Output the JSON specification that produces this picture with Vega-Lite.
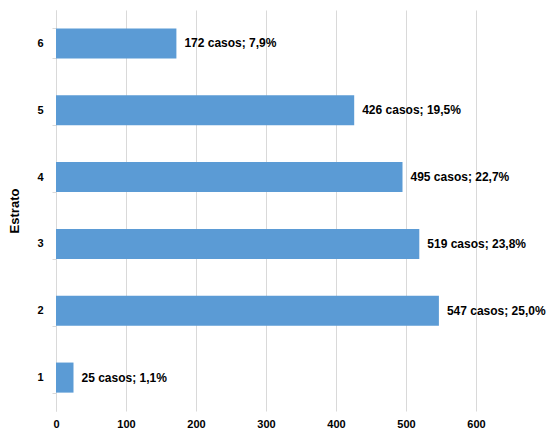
{
  "$schema": "https://vega.github.io/schema/vega-lite/v6.json",
  "autosize": {"type": "none"},
  "padding": {"left": 56, "top": 10, "right": 72, "bottom": 25},
  "width": 420,
  "height": 401,
  "background": "white",
  "data": {
    "values": [
      {"Estrato": "6", "casos": 172, "label": "172 casos; 7,9%"},
      {"Estrato": "5", "casos": 426, "label": "426 casos; 19,5%"},
      {"Estrato": "4", "casos": 495, "label": "495 casos; 22,7%"},
      {"Estrato": "3", "casos": 519, "label": "519 casos; 23,8%"},
      {"Estrato": "2", "casos": 547, "label": "547 casos; 25,0%"},
      {"Estrato": "1", "casos": 25, "label": "25 casos; 1,1%"}
    ]
  },
  "encoding": {
    "y": {
      "field": "Estrato",
      "type": "nominal",
      "sort": ["6", "5", "4", "3", "2", "1"],
      "scale": {"paddingInner": 0.55, "paddingOuter": 0.275},
      "axis": {
        "title": "Estrato",
        "titleFont": "Liberation Sans",
        "titleFontSize": 13,
        "titleFontWeight": "bold",
        "titleColor": "black",
        "titlePadding": 15,
        "labelFont": "Liberation Sans",
        "labelFontSize": 11,
        "labelFontWeight": "bold",
        "labelColor": "black",
        "labelPadding": 9,
        "labelAngle": 0,
        "tickBand": "extent",
        "tickSize": 4,
        "tickColor": "#d9d9d9",
        "domainColor": "#d9d9d9",
        "grid": false
      }
    }
  },
  "layer": [
    {
      "mark": {"type": "bar", "color": "#5b9bd5"},
      "encoding": {
        "x": {
          "field": "casos",
          "type": "quantitative",
          "scale": {"domain": [0, 600], "nice": false},
          "axis": {
            "title": null,
            "values": [0, 100, 200, 300, 400, 500, 600],
            "labelFont": "Liberation Sans",
            "labelFontSize": 11,
            "labelFontWeight": "bold",
            "labelColor": "black",
            "labelPadding": 7,
            "labelFlush": false,
            "domain": false,
            "ticks": false,
            "grid": true,
            "gridColor": "#d9d9d9"
          }
        }
      }
    },
    {
      "mark": {
        "type": "text",
        "align": "left",
        "baseline": "middle",
        "dx": 8,
        "font": "Liberation Sans",
        "fontSize": 12,
        "fontWeight": "bold",
        "color": "black"
      },
      "encoding": {
        "x": {"field": "casos", "type": "quantitative"},
        "text": {"field": "label"}
      }
    }
  ],
  "config": {"view": {"stroke": null}}
}
